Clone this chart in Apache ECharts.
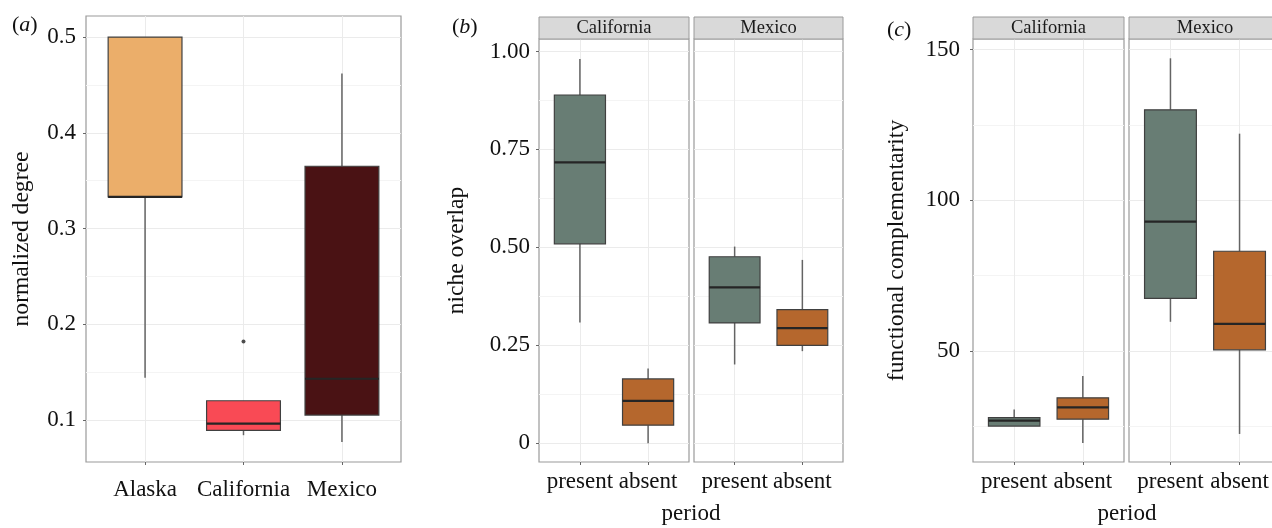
<!DOCTYPE html>
<html>
<head>
<meta charset="utf-8">
<script src="https://cdn.jsdelivr.net/npm/echarts@6/dist/echarts.min.js"></script>
<style>
  html, body { margin: 0; padding: 0; background: #fff; overflow: hidden; }
  #chart { width: 1290px; height: 528px; }
</style>
</head>
<body>
<div id="chart"></div>
<script>
// ---- data (box stats are [min, q1, median, q3, max]) ----
const regions = ['Alaska', 'California', 'Mexico'];
const degreeStats = [
  [0.144, 0.333, 0.333, 0.500, 0.500],
  [0.084, 0.089, 0.096, 0.120, 0.120],
  [0.077, 0.105, 0.143, 0.365, 0.462]
];
const degreeOutliers = [[1, 0.182]];
const degreeTicks = [0.1, 0.2, 0.3, 0.4, 0.5];
const degreeMinor = [0.15, 0.25, 0.35, 0.45];

const facets = ['California', 'Mexico'];
const periods = ['present', 'absent'];
const overlapCalifornia = [
  [0.308, 0.509, 0.717, 0.889, 0.981],
  [0.000, 0.046, 0.108, 0.164, 0.191]
];
const overlapMexico = [
  [0.201, 0.307, 0.398, 0.476, 0.502],
  [0.235, 0.250, 0.294, 0.341, 0.468]
];
const overlapTicks = [0, 0.25, 0.5, 0.75, 1];
const overlapMinor = [0.125, 0.375, 0.625, 0.875];

const complementCalifornia = [
  [25.1, 25.1, 26.9, 27.9, 30.6],
  [19.5, 27.4, 31.3, 34.5, 41.7]
];
const complementMexico = [
  [59.7, 67.5, 92.9, 130.0, 147.1],
  [22.5, 50.4, 59.0, 83.1, 122.1]
];
const complementTicks = [50, 100, 150];
const complementMinor = [25, 75, 125];

const regionColors = ['#ebae6a', '#f94a55', '#4a1214'];
const periodColors = ['#687d74', '#b5672d'];

// ---- layout ----
// the right-most facet runs past the 1272px window edge, as in the source figure
const serif = 'Liberation Serif';
const grids = [
  { left: 86, top: 16, width: 315, height: 446 },
  { left: 539, top: 39, width: 150, height: 423 },
  { left: 694, top: 39, width: 149, height: 423 },
  { left: 973, top: 39, width: 151, height: 423 },
  { left: 1129, top: 39, width: 152, height: 423 }
];

function xAxisFor(gridIndex, names, margin) {
  const vals = names.map((n, i) => i);
  return {
    type: 'value', gridIndex, min: -0.6, max: names.length - 0.4,
    axisLine: { show: false, onZero: false },
    axisTick: { show: true, length: 3, customValues: vals, lineStyle: { color: '#666' } },
    axisLabel: { customValues: vals, formatter: v => names[Math.round(v)], margin,
      fontFamily: serif, fontSize: 23, color: '#111' },
    splitLine: { show: true, lineStyle: { color: '#ebebeb', width: 1 } }
  };
}

function yMajor(gridIndex, min, max, ticks, fmt, name, nameGap, margin) {
  const show = !!fmt;
  return {
    type: 'value', gridIndex, min, max,
    name: name || '', nameLocation: 'middle', nameGap: nameGap || 0,
    nameTextStyle: { fontFamily: serif, fontSize: 23.6, color: '#111' },
    axisLine: { show: false, onZero: false },
    axisTick: { show, length: 3, customValues: ticks, lineStyle: { color: '#666' } },
    axisLabel: { show, customValues: ticks, formatter: fmt, margin: margin || 10,
      fontFamily: serif, fontSize: 23, color: '#111' },
    splitLine: { show: true, lineStyle: { color: '#ebebeb', width: 1 } }
  };
}

function yMinor(gridIndex, min, max, ticks) {
  return {
    type: 'value', gridIndex, min, max,
    axisLine: { show: false, onZero: false },
    axisTick: { show: false, customValues: ticks },
    axisLabel: { show: false, customValues: ticks },
    splitLine: { show: true, lineStyle: { color: '#f4f4f4', width: 1 } }
  };
}

function renderBox(colors) {
  return function (params, api) {
    const x = api.value(0);
    const lo = api.coord([x, api.value(1)]);
    const q1 = api.coord([x, api.value(2)]);
    const md = api.coord([x, api.value(3)]);
    const q3 = api.coord([x, api.value(4)]);
    const hi = api.coord([x, api.value(5)]);
    const half = api.size([0.75, 0])[0] / 2;
    const whisker = { stroke: '#646464', lineWidth: 1.5 };
    return {
      type: 'group',
      children: [
        { type: 'line', shape: { x1: lo[0], y1: lo[1], x2: q1[0], y2: q1[1] }, style: whisker },
        { type: 'line', shape: { x1: q3[0], y1: q3[1], x2: hi[0], y2: hi[1] }, style: whisker },
        { type: 'rect', shape: { x: q3[0] - half, y: q3[1], width: half * 2, height: q1[1] - q3[1] },
          style: { fill: colors[params.dataIndex], stroke: '#404040', lineWidth: 1.2 } },
        { type: 'line', shape: { x1: md[0] - half, y1: md[1], x2: md[0] + half, y2: md[1] },
          style: { stroke: '#252525', lineWidth: 2.2 } }
      ]
    };
  };
}

function boxSeries(gridIdx, stats, colors) {
  return {
    type: 'custom',
    xAxisIndex: gridIdx, yAxisIndex: gridIdx * 2,
    renderItem: renderBox(colors),
    encode: { x: 0, y: [1, 2, 3, 4, 5] },
    data: stats.map((s, i) => [i].concat(s)),
    clip: false
  };
}

const fmtDegree = v => v.toFixed(1);
const fmtOverlap = v => (v === 0 ? '0' : v.toFixed(2));
const fmtComplement = v => String(Math.round(v));

const yRanges = [
  [0.056, 0.522], [-0.048, 1.032], [-0.048, 1.032], [13.2, 153.5], [13.2, 153.5]
];

const xAxes = [
  xAxisFor(0, regions, 16),
  xAxisFor(1, periods, 8), xAxisFor(2, periods, 8),
  xAxisFor(3, periods, 8), xAxisFor(4, periods, 8)
];

const yAxes = [
  yMajor(0, yRanges[0][0], yRanges[0][1], degreeTicks, fmtDegree, 'normalized degree', 52, 10),
  yMinor(0, yRanges[0][0], yRanges[0][1], degreeMinor),
  yMajor(1, yRanges[1][0], yRanges[1][1], overlapTicks, fmtOverlap, 'niche overlap', 70, 9),
  yMinor(1, yRanges[1][0], yRanges[1][1], overlapMinor),
  yMajor(2, yRanges[2][0], yRanges[2][1], overlapTicks, null),
  yMinor(2, yRanges[2][0], yRanges[2][1], overlapMinor),
  yMajor(3, yRanges[3][0], yRanges[3][1], complementTicks, fmtComplement, 'functional complementarity', 64, 13),
  yMinor(3, yRanges[3][0], yRanges[3][1], complementMinor),
  yMajor(4, yRanges[4][0], yRanges[4][1], complementTicks, null),
  yMinor(4, yRanges[4][0], yRanges[4][1], complementMinor)
];

// ---- decorations: facet strips, panel tags, shared x titles ----
const graphics = [];
[1, 2, 3, 4].forEach((gi, k) => {
  const g = grids[gi];
  graphics.push({
    type: 'rect', shape: { x: g.left, y: 17, width: g.width, height: 22 },
    style: { fill: '#d9d9d9', stroke: '#9a9a9a', lineWidth: 1 }, z: 10
  });
  graphics.push({
    type: 'text', x: g.left + g.width / 2, y: 28.5, z: 11,
    style: { text: facets[k % 2], fontFamily: serif, fontSize: 18.5, fill: '#1a1a1a',
      align: 'center', verticalAlign: 'middle' }
  });
});
const tags = [['a', 12, 25], ['b', 452, 27], ['c', 887, 30]];
tags.forEach(t => {
  graphics.push({
    type: 'text', x: t[1], y: t[2], z: 11,
    style: {
      text: '{p|(}{i|' + t[0] + '}{p|)}', verticalAlign: 'middle',
      rich: {
        p: { fontFamily: serif, fontSize: 22, fill: '#111' },
        i: { fontFamily: serif, fontSize: 22, fontStyle: 'italic', fill: '#111' }
      }
    }
  });
});
[[1, 2], [3, 4]].forEach(pair => {
  const a = grids[pair[0]], b = grids[pair[1]];
  graphics.push({
    type: 'text', x: (a.left + b.left + b.width) / 2, y: 514, z: 11,
    style: { text: 'period', fontFamily: serif, fontSize: 23, fill: '#111',
      align: 'center', verticalAlign: 'middle' }
  });
});

const chart = echarts.init(document.getElementById('chart'), null, { renderer: 'canvas' });
chart.setOption({
  backgroundColor: '#fff',
  animation: false,
  grid: grids.map(g => Object.assign({ show: true, borderColor: '#9a9a9a', borderWidth: 1.2,
    backgroundColor: 'transparent', containLabel: false }, g)),
  xAxis: xAxes,
  yAxis: yAxes,
  graphic: graphics,
  series: [
    boxSeries(0, degreeStats, regionColors),
    {
      type: 'scatter', xAxisIndex: 0, yAxisIndex: 0,
      data: degreeOutliers, symbolSize: 4,
      itemStyle: { color: '#222' }
    },
    boxSeries(1, overlapCalifornia, periodColors),
    boxSeries(2, overlapMexico, periodColors),
    boxSeries(3, complementCalifornia, periodColors),
    boxSeries(4, complementMexico, periodColors)
  ]
});
</script>
</body>
</html>
